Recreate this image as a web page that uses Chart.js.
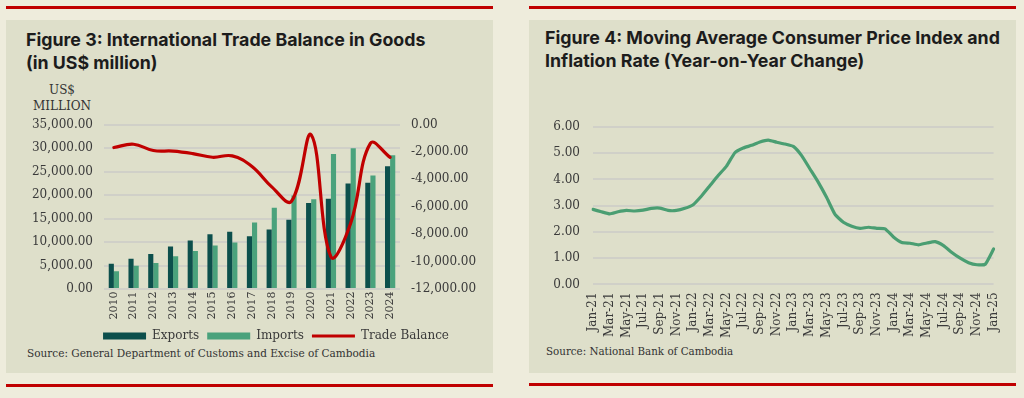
<!DOCTYPE html>
<html>
<head>
<meta charset="utf-8">
<script src="https://cdn.jsdelivr.net/npm/chart.js@4"></script>
<style>
html,body{margin:0;padding:0;background:#eeecdc;width:1024px;height:398px;overflow:hidden}
.panel{position:absolute;background:#dedfca}
.rule{position:absolute;height:3px;background:#c00000}
.title{position:absolute;font-family:Inter,"Liberation Sans",sans-serif;font-weight:700;font-size:17.8px;line-height:22.5px;color:#1c1c1c;white-space:nowrap}
.src{position:absolute;font-family:"DejaVu Serif",serif;font-size:10.3px;color:#333;white-space:nowrap}
.unit{position:absolute;font-family:"DejaVu Serif",serif;font-size:12px;line-height:16px;color:#333;text-align:center;width:80px}
.wrap{position:absolute}
</style>
</head>
<body>
<div class="rule" style="left:6px;top:6px;width:487px"></div>
<div class="rule" style="left:529px;top:6px;width:487px"></div>
<div class="panel" style="left:6px;top:20px;width:487px;height:353px"></div>
<div class="panel" style="left:529px;top:20px;width:487px;height:353px"></div>
<div class="rule" style="left:6px;top:384px;width:487px"></div>
<div class="rule" style="left:529px;top:383px;width:487px"></div>

<div class="title" style="left:26px;top:29px">Figure 3: International Trade Balance in Goods<br>(in US$ million)</div>
<div class="title" style="left:545px;top:27px">Figure 4: Moving Average Consumer Price Index and<br>Inflation Rate (Year-on-Year Change)</div>
<div class="unit" style="left:22px;top:82px">US$<br>MILLION</div>
<div class="src" style="left:27px;top:347px;font-size:10.5px">Source: General Department of Customs and Excise of Cambodia</div>
<div class="src" style="left:546px;top:345px">Source: National Bank of Cambodia</div>

<div class="wrap" style="left:6px;top:100px;width:486px;height:252px"><canvas id="c1"></canvas></div>
<div class="wrap" style="left:528px;top:100px;width:488px;height:252px"><canvas id="c2"></canvas></div>

<script>
// ---- Figure 3 data (US$ million) ----
const years = ['2010','2011','2012','2013','2014','2015','2016','2017','2018','2019','2020','2021','2022','2023','2024'];
const exportsVals = [5390, 6460, 7460, 9020, 10300, 11650, 12200, 11250, 12650, 14750, 18300, 19220, 22450, 22600, 26100];
const importsVals = [3770, 4970, 5540, 6960, 8100, 9230, 9900, 14150, 17280, 19900, 19100, 28700, 29950, 24150, 28450];
const tradeBalance = [-1680, -1440, -1900, -1940, -2120, -2390, -2290, -3070, -4550, -5600, -760, -9650, -7200, -1380, -2400];
const seriesNames = ['Exports', 'Imports', 'Trade Balance'];

// ---- Figure 4 data (%) ----
const cpiMonths = ['Jan-21','Feb-21','Mar-21','Apr-21','May-21','Jun-21','Jul-21','Aug-21','Sep-21','Oct-21','Nov-21','Dec-21',
  'Jan-22','Feb-22','Mar-22','Apr-22','May-22','Jun-22','Jul-22','Aug-22','Sep-22','Oct-22','Nov-22','Dec-22',
  'Jan-23','Feb-23','Mar-23','Apr-23','May-23','Jun-23','Jul-23','Aug-23','Sep-23','Oct-23','Nov-23','Dec-23',
  'Jan-24','Feb-24','Mar-24','Apr-24','May-24','Jun-24','Jul-24','Aug-24','Sep-24','Oct-24','Nov-24','Dec-24','Jan-25'];
const cpiVals = [2.86, 2.77, 2.69, 2.77, 2.82, 2.80, 2.83, 2.90, 2.91, 2.82, 2.82, 2.90,
  3.04, 3.37, 3.76, 4.15, 4.51, 5.02, 5.20, 5.30, 5.43, 5.50, 5.42, 5.35,
  5.26, 4.91, 4.40, 3.89, 3.31, 2.67, 2.37, 2.22, 2.14, 2.18, 2.14, 2.12,
  1.81, 1.60, 1.57, 1.51, 1.58, 1.63, 1.48, 1.22, 1.00, 0.83, 0.75, 0.77, 1.35];

const tickFont = {family: 'DejaVu Serif', size: 12};
const tickColor = '#3a3a3a';
const gridColor = '#d0d0c8';
const fmt2 = v => Number(v).toLocaleString('en-US', {minimumFractionDigits: 2, maximumFractionDigits: 2});

Chart.defaults.animation = false;
Chart.defaults.responsive = true;
Chart.defaults.maintainAspectRatio = false;

const shiftLegend = {
  id: 'shiftLegend',
  afterLayout(chart) {
    const lg = chart.legend;
    if (lg) { lg.left += 27; lg.right += 27; }
  }
};

new Chart(document.getElementById('c1'), {
  type: 'bar',
  plugins: [shiftLegend],
  data: {
    labels: years,
    datasets: [
      {label: seriesNames[0], data: exportsVals, backgroundColor: '#0c4f4c', yAxisID: 'y', order: 1,
       categoryPercentage: 0.52, barPercentage: 1.0, pointStyle: 'rect'},
      {label: seriesNames[1], data: importsVals, backgroundColor: '#4aa27c', yAxisID: 'y', order: 1,
       categoryPercentage: 0.52, barPercentage: 1.0, pointStyle: 'rect'},
      {type: 'line', label: seriesNames[2], data: tradeBalance, borderColor: '#c00000', backgroundColor: '#c00000',
       borderWidth: 3.2, pointRadius: 0, tension: 0.4, yAxisID: 'y1', order: 0, pointStyle: 'line', borderCapStyle: 'round'}
    ]
  },
  options: {
    layout: {padding: {top: 24.5, left: 0, right: 0, bottom: 0}},
    plugins: {
      legend: {
        position: 'bottom',
        labels: {
          usePointStyle: true, pointStyleWidth: 43, boxHeight: 7, padding: 8,
          font: {family: 'DejaVu Serif', size: 12}, color: '#3a3a3a',
          sort: (a, b) => a.datasetIndex - b.datasetIndex
        }
      },
      tooltip: {enabled: false}
    },
    scales: {
      x: {
        grid: {display: false, drawTicks: false}, border: {display: false},
        ticks: {font: {family: 'DejaVu Serif', size: 11}, color: tickColor, maxRotation: 90, minRotation: 90, padding: 2.5, autoSkip: false}
      },
      y: {
        position: 'left', min: 0, max: 35000,
        grid: {color: gridColor, lineWidth: 2, drawTicks: false}, border: {display: false},
        ticks: {stepSize: 5000, font: tickFont, color: tickColor, padding: 11, callback: v => fmt2(v)},
        afterFit: s => { s.width = 98; }
      },
      y1: {
        position: 'right', min: -12000, max: 0,
        grid: {display: false, drawTicks: false}, border: {display: false},
        ticks: {stepSize: 2000, font: tickFont, color: tickColor, padding: 11, callback: v => fmt2(v)},
        afterFit: s => { s.width = 92; }
      }
    }
  }
});

new Chart(document.getElementById('c2'), {
  type: 'line',
  data: {
    labels: cpiMonths,
    datasets: [{label: 'Inflation', data: cpiVals, borderColor: '#4a9e72', borderWidth: 3.2, pointRadius: 0, tension: 0.15,
      borderCapStyle: 'round', borderJoinStyle: 'round'}]
  },
  options: {
    layout: {padding: {top: 27, left: 0, right: 21, bottom: 6}},
    plugins: {legend: {display: false}, tooltip: {enabled: false}},
    scales: {
      x: {
        grid: {display: false, drawTicks: false}, border: {display: false},
        ticks: {font: tickFont, color: tickColor, maxRotation: 90, minRotation: 90, padding: 8, autoSkip: false,
          callback: (v, i) => (i % 2 === 0 ? cpiMonths[i] : '')}
      },
      y: {
        min: 0, max: 6,
        grid: {color: gridColor, lineWidth: 2, drawTicks: false}, border: {display: false},
        ticks: {stepSize: 1, font: tickFont, color: tickColor, padding: 13, callback: v => fmt2(v)},
        afterFit: s => { s.width = 65; }
      }
    }
  }
});
</script>
</body>
</html>
